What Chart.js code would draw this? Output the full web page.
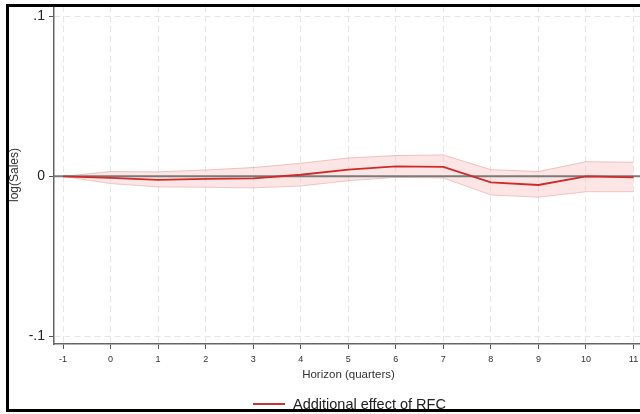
<!DOCTYPE html>
<html>
<head>
<meta charset="utf-8">
<script src="https://cdn.jsdelivr.net/npm/chart.js@4.4.1/dist/chart.umd.min.js"></script>
<style>
html,body{margin:0;padding:0;background:#fff;width:640px;height:414px;overflow:hidden;position:relative}
#wrap{position:absolute;left:0;top:0;width:660px;height:414px}
#frame{position:absolute;left:6px;top:4px;width:700px;height:408px;box-sizing:border-box;border:3px solid #000;z-index:3;pointer-events:none}
#legend{position:absolute;left:253px;top:396px;font-family:"Liberation Sans",Arial,sans-serif;font-size:14.5px;color:#222;white-space:nowrap;z-index:2}
#legend span.sw{display:inline-block;width:32px;height:2px;background:#cc3333;vertical-align:middle;margin-right:8px;position:relative;top:-1px}
</style>
</head>
<body>
<div id="wrap"><canvas id="chart" width="660" height="414"></canvas></div>
<div id="legend"><span class="sw"></span>Additional effect of RFC</div>
<div id="frame"></div>
<script>
// horizon in quarters and the estimated effect with its confidence band
const horizon=[-1,0,1,2,3,4,5,6,7,8,9,10,11];
const effect=[0,-0.001,-0.0022,-0.0016,-0.0012,0.001,0.0042,0.0063,0.0059,-0.0037,-0.0054,0,-0.0006];
const upper=[0,0.003,0.0028,0.004,0.0055,0.0082,0.0115,0.013,0.0134,0.0042,0.003,0.0092,0.0088];
const lower=[0,-0.0045,-0.0066,-0.0068,-0.0072,-0.006,-0.0027,-0.0006,-0.001,-0.0116,-0.013,-0.0096,-0.0096];
const xTicks=[-1,0,1,2,3,4,5,6,7,8,9,10,11];
const yTicks=[-0.1,0,0.1];
const xMin=-1.19,xMax=11.2,yMin=-0.1048,yMax=0.1065;

const pts=v=>horizon.map((h,i)=>({x:h,y:v[i]}));
const fmt=v=>v===0?'0':(v<0?'-':'')+String(Math.abs(v)).replace(/^0/,'');

new Chart(document.getElementById('chart').getContext('2d'),{
    type:'line',
    data:{datasets:[
        {data:pts(effect),borderColor:'#cf2a2a',borderWidth:1.8,pointRadius:0,tension:0,fill:false,order:1},
        {data:[{x:xMin,y:0},{x:xMax,y:0}],borderColor:'#7a7a7a',borderWidth:2,pointRadius:0,fill:false,order:2},
        {data:pts(upper),borderColor:'rgba(230,150,150,0.55)',borderWidth:1,pointRadius:0,tension:0,fill:'+1',backgroundColor:'rgba(246,190,190,0.4)',order:3},
        {data:pts(lower),borderColor:'rgba(230,150,150,0.55)',borderWidth:1,pointRadius:0,tension:0,fill:false,order:4}
    ]},
    options:{
        responsive:false,animation:false,
        layout:{padding:{left:7,top:6,right:17,bottom:0}},
        plugins:{legend:{display:false},tooltip:{enabled:false}},
        scales:{
            x:{type:'linear',min:xMin,max:xMax,
                afterBuildTicks:s=>{s.ticks=xTicks.map(v=>({value:v}))},
                afterFit:s=>{s.height=70;s.paddingLeft=0;s.paddingRight=0},
                grid:{color:'#e6e6e6',tickColor:'#555',tickLength:5,tickBorderDash:[]},
                border:{color:'#666',width:1.5,dash:[6,4]},
                ticks:{color:'#333',font:{family:'"Liberation Sans",Arial',size:9},padding:5,maxRotation:0,autoSkip:false},
                title:{display:true,text:'Horizon (quarters)',color:'#333',font:{family:'"Liberation Sans",Arial',size:11.5},padding:{bottom:32}}
            },
            y:{type:'linear',min:yMin,max:yMax,
                afterBuildTicks:s=>{s.ticks=yTicks.map(v=>({value:v}))},
                afterFit:s=>{s.width=47;s.paddingTop=0;s.paddingBottom=0},
                grid:{color:'#e6e6e6',tickColor:'#555',tickLength:5,tickBorderDash:[]},
                border:{color:'#666',width:1.5,dash:[6,4]},
                ticks:{color:'#222',font:{family:'"Liberation Sans",Arial',size:14},padding:4,callback:v=>fmt(v)},
                title:{display:true,text:'log(Sales)',color:'#333',font:{family:'"Liberation Sans",Arial',size:12},padding:0}
            }
        }
    }
});
</script>
</body>
</html>
